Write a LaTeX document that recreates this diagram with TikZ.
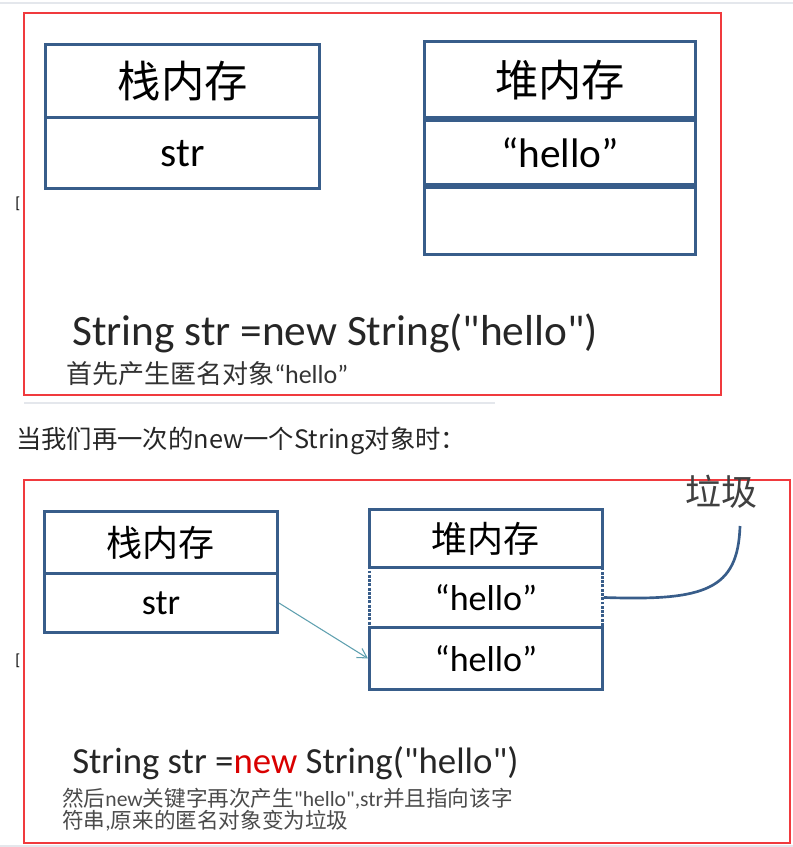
\documentclass[tikz,border=0pt]{standalone}
\usepackage{fontspec}
\setmainfont{Carlito}[Ligatures=TeXOff]
\newfontfamily\cjk{Noto Sans CJK SC}
\usetikzlibrary{arrows.meta}
\definecolor{boxblue}{RGB}{56,93,138}
\definecolor{framered}{RGB}{240,58,62}
\definecolor{linkteal}{RGB}{95,160,175}
\definecolor{notegray}{RGB}{75,75,75}
\definecolor{pagegray}{RGB}{228,231,236}
\tikzset{
  frame/.style={draw=framered, line width=2.2pt},
  cell/.style={draw=boxblue, line width=2.6pt, inner sep=0pt, anchor=north west, text=black},
  bigcell/.style={cell, font=\fontsize{31}{31}\selectfont},
  smallcell/.style={cell, line width=2.2pt, font=\fontsize{27}{27}\selectfont},
  dotcell/.style={smallcell, densely dotted},
  codeline/.style={anchor=base west, inner sep=0pt, text=black!85},
  note/.style={anchor=north west, inner sep=0pt, text=notegray, align=left},
}
\begin{document}
\begin{tikzpicture}[x=0.75pt,y=0.75pt,yscale=-1,xscale=1]
\useasboundingbox (0,0) rectangle (793,847);

%page lines
\draw[pagegray, line width=1.5pt] (0,3) -- (793,3);
\draw[pagegray, line width=1.5pt] (24,403) -- (495,403);
\draw[pagegray, line width=2pt] (0,846) -- (793,846);

%Shape: Rectangle (first frame)
\draw[frame] (24,13) rectangle (721,395);

% stack memory
\node[bigcell, minimum width=205.5pt, minimum height=54.75pt, font=\cjk\fontsize{32.5}{32.5}\selectfont] (stackHead) at (44,43) {栈内存};
\node[bigcell, minimum width=205.5pt, minimum height=53.25pt] (stackStr) at (44,116) {str};

% heap memory
\node[bigcell, minimum width=203.25pt, minimum height=57pt, font=\cjk\fontsize{32.5}{32.5}\selectfont] (heapHead) at (423,40) {堆内存};
\node[bigcell, minimum width=203.25pt, minimum height=48pt] (heapHello) at (423,119) {“hello”};
\node[bigcell, minimum width=203.25pt, minimum height=50.25pt] (heapFree) at (423,186) {};

% Text Node
\node[codeline, font=\fontsize{32.5}{32.5}\selectfont] (codeA) at (72,345) {String str =new String("hello")};
% Text Node
\node[note, text=black!80, font=\fontsize{19.5}{19.5}\selectfont] (noteA) at (66,361) {{\cjk 首先产生匿名对象}“hello”};
% Text Node
\node[anchor=base west, inner sep=0pt, font=\fontsize{12}{12}\selectfont] (brkA) at (15,208) {[};

% Text Node
\node[anchor=base west, inner sep=0pt, text=black!85, font=\cjk\fontsize{19}{19}\selectfont] (between) at (16,448) {当我们再一次的new一个String对象时：};

%Shape: Rectangle (second frame)
\draw[frame] (24,480) rectangle (790,843);

% stack memory
\node[smallcell, minimum width=174.75pt, minimum height=46.5pt] (stackHead2) at (43,510) {\cjk 栈内存};
\node[smallcell, minimum width=174.75pt, minimum height=44.25pt] (stackStr2) at (43,572) {str};

% heap memory
\node[smallcell, minimum width=174.75pt, minimum height=43.5pt] (heapHead2) at (368,508) {\cjk 堆内存};
\node[dotcell, minimum width=174.75pt, minimum height=45pt] (heapOld) at (368,566) {“hello”};
\node[smallcell, minimum width=174.75pt, minimum height=46.5pt] (heapNew) at (368,626) {“hello”};

% label for garbage
\node[inner sep=0pt, text=black!75, font=\cjk\fontsize{27}{27}\selectfont] (garbage) at (721,492) {垃圾};
\coordinate (gcEnd) at (740,526);

%Straight Lines
\draw[linkteal, line width=0.8pt, -{Straight Barb[length=7pt,width=8pt]}] (stackStr2.east) -- (heapNew.west);
%Curve Lines
\draw[boxblue, line width=2pt] (heapOld.east) .. controls (705,601) and (738,590) .. (gcEnd);

% Text Node
\node[codeline, font=\fontsize{27.6}{27.6}\selectfont] (codeB) at (72,773) {String str =\textcolor{red!85!black!100}{new} String("hello")};
% Text Node
\node[note, font=\fontsize{16.2}{16.5}\selectfont] (noteB) at (62,788) {{\cjk 然后}new{\cjk 关键字再次产生}"hello",str{\cjk 并且指向该字}\\{\cjk 符串},{\cjk 原来的匿名对象变为垃圾}};
% Text Node
\node[anchor=base west, inner sep=0pt, font=\fontsize{12}{12}\selectfont] (brkB) at (15,665) {[};

\end{tikzpicture}
\end{document}
